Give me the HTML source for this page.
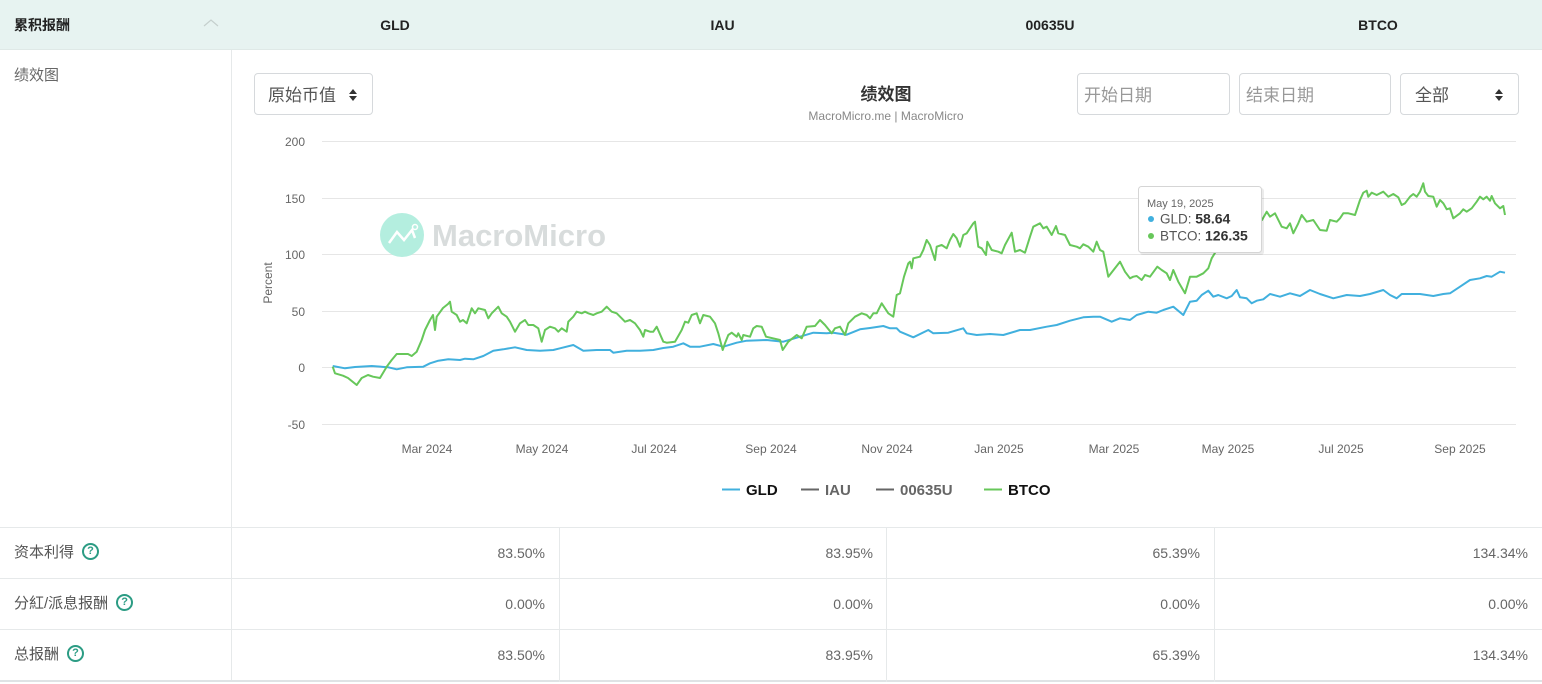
<!DOCTYPE html>
<html><head><meta charset="utf-8">
<style>
*{margin:0;padding:0;box-sizing:border-box}
body{width:1542px;height:684px;background:#fff;font-family:"Liberation Sans","Noto Sans CJK SC",sans-serif;position:relative;overflow:hidden;color:#555}
.abs{position:absolute}
.hdr{left:0;top:0;width:1542px;height:50px;background:#e7f3f1;border-bottom:1px solid #dfe9e7}
.hcol{position:absolute;top:0;height:50px;line-height:50px;font-weight:bold;font-size:14px;color:#222;text-align:center}
.box{position:absolute;border:1px solid #d6d9dc;border-radius:4px;background:#fff;font-size:17px;color:#555;line-height:44px}
.row{position:absolute;left:0;width:1542px;height:51px;border-bottom:1px solid #e6e9ea}
.lbl{position:absolute;left:14px;top:0;line-height:50px;font-size:15px;color:#555}
.q{display:inline-block;width:17px;height:17px;border:2px solid #2c9c84;border-radius:50%;color:#2c9c84;font-size:11px;font-weight:bold;text-align:center;line-height:13px;vertical-align:middle;margin-left:8px;margin-top:-3px}
.val{position:absolute;top:0;line-height:50px;font-size:14px;color:#666;text-align:right}
.vline{position:absolute;width:1px;background:#e6e9ea}
</style></head><body>
<div class="abs hdr"></div>
<div class="hcol" style="left:14px;text-align:left">累积报酬</div>
<svg class="abs" style="left:203px;top:18px" width="16" height="10"><polyline points="1,8 8,2 15,8" fill="none" stroke="#c5cfcd" stroke-width="1.2"/></svg>
<div class="hcol" style="left:231px;width:328px">GLD</div>
<div class="hcol" style="left:559px;width:327px">IAU</div>
<div class="hcol" style="left:886px;width:328px">00635U</div>
<div class="hcol" style="left:1214px;width:328px">BTCO</div>

<div class="abs" style="left:14px;top:64px;font-size:15px;color:#666">绩效图</div>
<div class="vline" style="left:231px;top:50px;height:632px"></div>
<div class="abs" style="left:0;top:527px;width:1542px;height:1px;background:#e6e9ea"></div>

<div class="box" style="left:254px;top:73px;width:119px;height:42px;padding-left:13px">原始币值</div>
<svg class="abs" style="left:348px;top:88px" width="10" height="14"><polygon points="5,1 9,6 1,6" fill="#333"/><polygon points="5,13 9,8 1,8" fill="#333"/></svg>

<div class="abs" style="left:786px;top:80px;width:200px;text-align:center;font-size:17px;font-weight:bold;color:#333">绩效图</div>
<div class="abs" style="left:736px;top:109px;width:300px;text-align:center;font-size:12px;color:#888">MacroMicro.me | MacroMicro</div>

<div class="box" style="left:1077px;top:73px;width:153px;height:42px;padding-left:6px;color:#999">开始日期</div>
<div class="box" style="left:1239px;top:73px;width:152px;height:42px;padding-left:6px;color:#999">结束日期</div>
<div class="box" style="left:1400px;top:73px;width:119px;height:42px;padding-left:14px">全部</div>
<svg class="abs" style="left:1494px;top:88px" width="10" height="14"><polygon points="5,1 9,6 1,6" fill="#333"/><polygon points="5,13 9,8 1,8" fill="#333"/></svg>

<svg class="abs" style="left:0;top:0" width="1542" height="684" font-family="Liberation Sans, sans-serif">
<g stroke="#e6e6e6" stroke-width="1">
<line x1="322" y1="141.5" x2="1516" y2="141.5"/>
<line x1="322" y1="198.5" x2="1516" y2="198.5"/>
<line x1="322" y1="254.5" x2="1516" y2="254.5"/>
<line x1="322" y1="311.5" x2="1516" y2="311.5"/>
<line x1="322" y1="367.5" x2="1516" y2="367.5"/>
<line x1="322" y1="424.5" x2="1516" y2="424.5"/>
</g>
<g font-size="12" fill="#666" text-anchor="end">
<text x="305" y="146">200</text>
<text x="305" y="203">150</text>
<text x="305" y="259">100</text>
<text x="305" y="316">50</text>
<text x="305" y="372">0</text>
<text x="305" y="429">-50</text>
</g>
<text transform="translate(272,283) rotate(-90)" font-size="12" fill="#666" text-anchor="middle">Percent</text>
<g font-size="12" fill="#666" text-anchor="middle">
<text x="427" y="453">Mar 2024</text>
<text x="542" y="453">May 2024</text>
<text x="654" y="453">Jul 2024</text>
<text x="771" y="453">Sep 2024</text>
<text x="887" y="453">Nov 2024</text>
<text x="999" y="453">Jan 2025</text>
<text x="1114" y="453">Mar 2025</text>
<text x="1228" y="453">May 2025</text>
<text x="1341" y="453">Jul 2025</text>
<text x="1460" y="453">Sep 2025</text>
</g>
<circle cx="402" cy="235" r="22" fill="#b4eedf"/>
<polyline points="389,243 397,232 404,240 412,230 415,238" fill="none" stroke="#fff" stroke-width="2.5"/>
<circle cx="415" cy="227" r="2.5" fill="none" stroke="#fff" stroke-width="1.5"/>
<text x="432" y="246" font-size="31" fill="#d8dcdc" font-weight="bold" textLength="174">MacroMicro</text>

<polyline fill="none" stroke="#41b0de" stroke-width="2" stroke-linejoin="round" points="332.7,366 345,368.3 355,367 371.7,366 388.3,367.3 396.7,369.3 406.7,367.3 423.3,366.7 430,363.3 438.3,360.7 448.3,359.3 460,360 465,358.7 473.3,359.3 483.3,356 493.3,350.7 503.3,349.3 515,347.3 526.7,350 540,350.7 553.3,350 560,348.3 573.3,345 583.3,350.7 596.7,350 610,350 613.3,352.7 626.7,350.7 640,350.7 653.3,350 663.3,348 673.3,346.7 683.3,343.3 690,346.7 700,346.7 713.3,344 723.3,346.7 736.7,342.7 746.7,340.7 766.7,340 783.3,341.7 800,336.7 813.3,332.7 826.7,333.3 833.3,332.7 846.7,334.7 860,329.3 870,328 883.3,326 890,328.3 896.7,328.3 900,331.7 913.3,337.3 928.3,330 933.3,333.3 948.3,332.7 963.3,328.3 966.7,333.3 976.7,335 990,334 1003.3,335 1020,330 1030,330 1046.7,326.7 1056.7,325 1070,320.7 1083.3,317.3 1093.3,316.7 1100,316.7 1111.7,321.7 1120,318.3 1130,320 1136.7,315 1148.3,311.7 1156.7,312.7 1163.3,310 1173.3,306.7 1183.3,315 1190,301.7 1196.7,300.7 1201.7,295 1208.3,290.7 1213.3,296.7 1218.3,295 1226.7,298.3 1231.7,296 1236.7,290 1240,297.3 1246.7,298.3 1251.7,303.3 1256.7,300.7 1263.3,299.3 1270,294 1280,296.7 1290,293.3 1300,296 1310,290 1320,294 1333.3,298.3 1346.7,295 1360,296 1370,294 1383.3,290 1390,295 1396.7,298.3 1401.7,294 1410,294 1420,294 1433.3,296 1443.3,294 1450,293.3 1460,286.7 1470,280 1480,278.3 1486.7,276 1491.7,276.7 1500,271.7 1505,272.7"/>

<polyline fill="none" stroke="#67c75a" stroke-width="2" stroke-linejoin="round" points="332.7,366.7 335,373.3 343,375.7 348,378 356.7,385 361.7,378 368,375 373,376.7 380,378 386.7,366.7 391.7,360 396.7,354 408,354 411.7,356 416.7,351.7 421.7,340 425,330 430,320 433,315 435,330 436.7,316.7 443,308 448,304 450,301.7 451.7,311.7 456.7,315 460,321.7 463,320 466.7,323.3 471.7,308.3 475,313.3 478.3,308.3 485,310 488.3,318.3 491.7,313.3 498.3,306.7 501.7,313.3 506.7,316.7 510,321.7 515,331.7 520,323.3 525,320 528.3,325 533.3,325 538.3,328.3 541.7,341.7 545,330 550,326.7 555,328.3 558.3,331.7 561.7,328.3 566.7,331.7 568.3,321.7 573.3,316.7 576.7,311.7 581.7,313.3 585,311.7 588.3,313.3 593.3,315 596.7,313.3 601.7,311.7 606.7,306.7 611.7,311.7 616.7,313.3 621.7,318.3 625,321.7 630,320 635,323.3 640,330 643.3,336.7 645,330 650,331.7 653.3,331.7 656.7,326.7 663.3,341.7 666.7,342.7 675,341.7 681.7,330 685,321.7 688.3,322.7 691.7,315 696.7,313.3 700,323.3 703.3,315 710,316.7 715,323.3 718.3,333.3 722.7,350 725,343.3 728.3,335 731.7,332.7 736.7,336.7 738.3,333.3 741.7,340 743.3,335 750,336.7 753.3,328.3 756.7,326 761.7,326.7 766,336.7 780,340 782.7,350 788.3,341.7 796.7,335 801.7,338.3 806.7,326.7 815,326 820,320 825,325 831.7,333.3 835,328.3 840,326.7 845,335 848.3,323.3 855,316.7 861.7,313.3 866.7,315 870,318.3 873.3,313.3 876.7,313.3 881.7,303.3 885,308.3 888.3,313.3 893.3,316.7 896.7,295 900,293.3 904,276.7 908.3,263.3 910,261.7 911.7,268.3 913.3,258.3 920,256.7 923.3,250 926.7,240 930,245 935,260 936.7,246.7 941.7,245 946.7,248.3 950,240 953.3,234 956.7,238.3 960,246.7 963.3,235 966.7,233.3 973.3,223.3 975,221.7 978.3,246.7 981.7,248.3 986,255 987.3,241.7 991.7,250 998.3,251.7 1001.7,253.3 1005,245 1011.7,232.7 1015,251.7 1020,250 1025,252.7 1030,236.7 1033.3,226.7 1040,223.3 1043.3,228.3 1046.7,226.7 1051.7,235 1056,226 1058.3,233.3 1065,235 1070,245 1076.7,246.7 1080,248.3 1083.3,244.3 1088.3,246.7 1093.3,251.7 1096.7,241.7 1100,250 1103.3,251.7 1108.3,276.7 1120,261.7 1125,271.7 1130,278.3 1133.3,276.7 1136.7,276 1141.7,280 1145,275 1150,276.7 1157.3,266.7 1161.7,270 1166.7,273.3 1170,280 1173.3,270 1178.3,281.7 1185,293.3 1190,276.7 1196.7,276.7 1203.3,273.3 1208.3,268.3 1211.7,258.3 1218,248 1230,236 1245,228 1262,220 1266.7,211.7 1270,216.7 1275,213.3 1281.7,226.7 1286.7,228.3 1290,223.3 1293.3,233.3 1298.3,223.3 1301.7,215 1306.7,221.7 1313.3,220 1320,230 1326.7,230.7 1330,220 1336.7,221.7 1340,218.3 1343.3,213.3 1348.3,213.3 1355,215 1360,200 1363.3,192.7 1366.7,190.7 1368.3,196.7 1371.7,192.7 1376.7,195 1383.3,191.7 1388.3,196.7 1393.3,194 1398.3,197.3 1401.7,205 1405,203.3 1410,196.7 1413.3,194 1416.7,196.7 1420,191.7 1423.3,183.3 1425,191.7 1428.3,196 1433.3,196.7 1436.7,206.7 1440,200 1443.3,203.3 1446.7,209.3 1450,208.3 1453.3,218.3 1460,213.3 1463.3,209.3 1466.7,211.7 1471.7,208.3 1476.7,201.7 1480,196.7 1483.3,199.3 1486.7,196.7 1490,200.7 1491.7,196 1495,203.3 1500,208.3 1503.3,206 1505,215"/>

<rect x="1140" y="188" width="124" height="67" rx="3" fill="#000" opacity="0.08"/>
<rect x="1138.5" y="186.5" width="123" height="66" rx="3" fill="#fff" stroke="#d5d5d5"/>
<text x="1147" y="207" font-size="11" fill="#666">May 19, 2025</text>
<circle cx="1151" cy="219" r="3" fill="#41b0de"/>
<text x="1160" y="223.5" font-size="13.5" fill="#555">GLD: <tspan font-weight="bold" fill="#333" font-size="14">58.64</tspan></text>
<circle cx="1151" cy="236" r="3" fill="#67c75a"/>
<text x="1160" y="240.5" font-size="13.5" fill="#555">BTCO: <tspan font-weight="bold" fill="#333" font-size="14">126.35</tspan></text>

<g font-size="15" font-weight="bold">
<line x1="722" y1="489.5" x2="740" y2="489.5" stroke="#41b0de" stroke-width="2"/>
<text x="746" y="495" fill="#111">GLD</text>
<line x1="801" y1="489.5" x2="819" y2="489.5" stroke="#666" stroke-width="2"/>
<text x="825" y="495" fill="#666">IAU</text>
<line x1="876" y1="489.5" x2="894" y2="489.5" stroke="#666" stroke-width="2"/>
<text x="900" y="495" fill="#666">00635U</text>
<line x1="984" y1="489.5" x2="1002" y2="489.5" stroke="#67c75a" stroke-width="2"/>
<text x="1008" y="495" fill="#111">BTCO</text>
</g>
</svg>

<div class="row" style="top:528px"><div class="lbl">资本利得<span class="q">?</span></div></div>
<div class="row" style="top:579px"><div class="lbl">分紅/派息报酬<span class="q">?</span></div></div>
<div class="row" style="top:630px;height:52px;border-bottom:2px solid #dfe3e5"><div class="lbl">总报酬<span class="q">?</span></div></div>
<div class="vline" style="left:559px;top:528px;height:154px"></div>
<div class="vline" style="left:886px;top:528px;height:154px"></div>
<div class="vline" style="left:1214px;top:528px;height:154px"></div>

<div class="val" style="top:528px;left:231px;width:314px">83.50%</div>
<div class="val" style="top:528px;left:559px;width:314px">83.95%</div>
<div class="val" style="top:528px;left:886px;width:314px">65.39%</div>
<div class="val" style="top:528px;left:1214px;width:314px">134.34%</div>
<div class="val" style="top:579px;left:231px;width:314px">0.00%</div>
<div class="val" style="top:579px;left:559px;width:314px">0.00%</div>
<div class="val" style="top:579px;left:886px;width:314px">0.00%</div>
<div class="val" style="top:579px;left:1214px;width:314px">0.00%</div>
<div class="val" style="top:630px;left:231px;width:314px">83.50%</div>
<div class="val" style="top:630px;left:559px;width:314px">83.95%</div>
<div class="val" style="top:630px;left:886px;width:314px">65.39%</div>
<div class="val" style="top:630px;left:1214px;width:314px">134.34%</div>
</body></html>
